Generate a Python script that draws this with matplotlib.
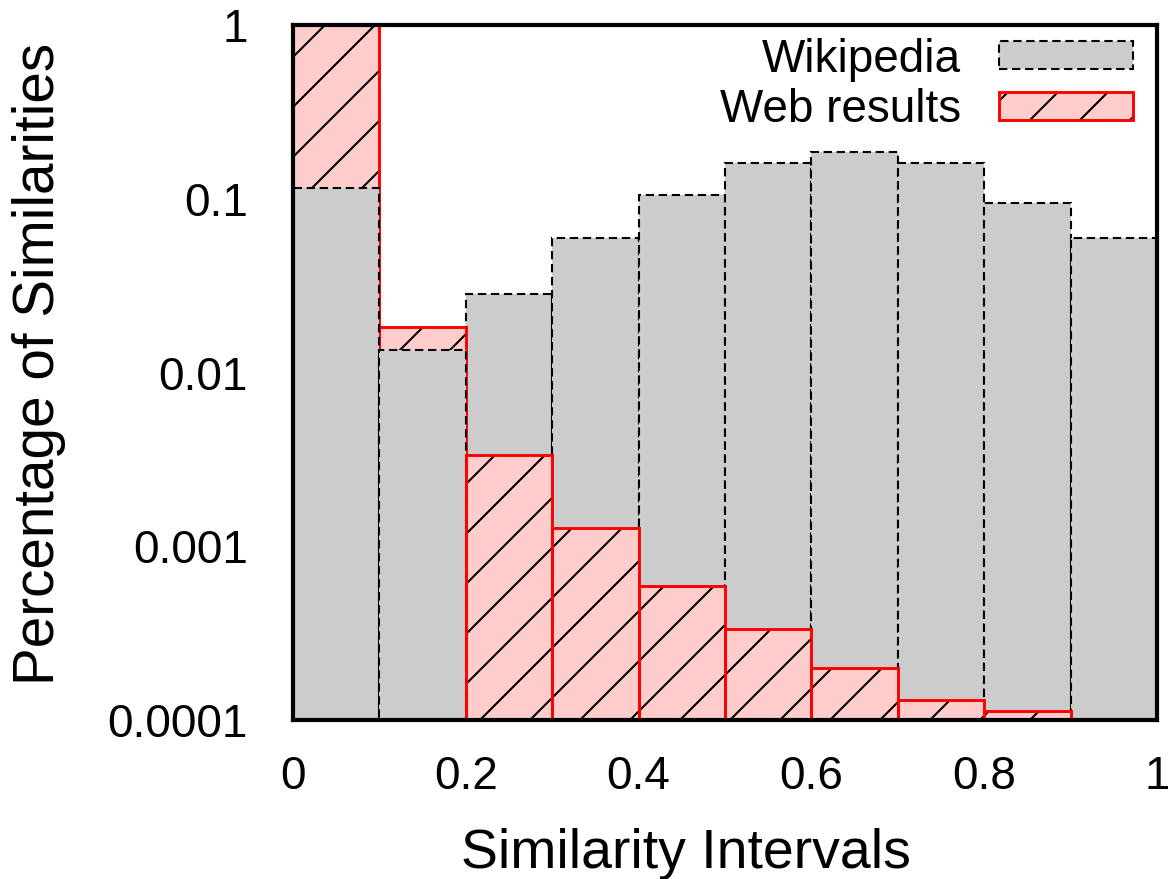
import matplotlib
matplotlib.use("Agg")
import matplotlib.pyplot as plt
import numpy as np
from matplotlib.ticker import FixedLocator, FixedFormatter, NullLocator
from matplotlib.legend_handler import HandlerTuple

# ---- data ----
bin_left = [0.0, 0.1, 0.2, 0.3, 0.4, 0.5, 0.6, 0.7, 0.8, 0.9]
wikipedia = [0.115, 0.0135, 0.0283, 0.0594, 0.105, 0.161, 0.186, 0.161, 0.0946, 0.0594]
web_results = [1.0, 0.0183, 0.00335, 0.00127, 0.00059, 0.000334, 0.000199, 0.000130, 0.000113, 0.0]
series_names = ["Wikipedia", "Web results"]
x_ticks = [0, 0.2, 0.4, 0.6, 0.8, 1.0]
x_tick_labels = ["0", "0.2", "0.4", "0.6", "0.8", "1"]
y_ticks = [1e-4, 1e-3, 1e-2, 1e-1, 1]
y_tick_labels = ["0.0001", "0.001", "0.01", "0.1", "1"]

plt.rcParams['font.family'] = ['Liberation Sans', 'DejaVu Sans']
plt.rcParams['hatch.linewidth'] = 0.5

DPI = 300
fig = plt.figure(figsize=(1168 / DPI, 879 / DPI), dpi=DPI)
ax = fig.add_axes([293 / 1168, 1 - 720 / 879, 864 / 1168, 695 / 879])

gray = ax.bar(bin_left, wikipedia, width=0.1, align='edge', color='#cccccc',
              edgecolor='black', linewidth=0.5, linestyle=(0, (4, 2.25)))
web_vals = [v if v > 0 else np.nan for v in web_results]
# fill + black hatch
pink_fill = ax.bar(bin_left, web_vals, width=0.1, align='edge', color='#ffcccc',
                   edgecolor='black', linewidth=0, hatch='//')
# red outline
pink_edge = ax.bar(bin_left, web_vals, width=0.1, align='edge', fill=False,
                   edgecolor='#ff0000', linewidth=0.7)

# smaller bar of each bin drawn on top
for g, pf, pe, gv, pv in zip(gray, pink_fill, pink_edge, wikipedia, web_results):
    if gv < pv:
        g.set_zorder(3); pf.set_zorder(2); pe.set_zorder(2.1)
    else:
        g.set_zorder(2); pf.set_zorder(3); pe.set_zorder(3.1)

ax.set_yscale('log')
ax.set_xlim(0, 1)
ax.set_ylim(1e-4, 1)
ax.yaxis.set_major_locator(FixedLocator(y_ticks))
ax.yaxis.set_major_formatter(FixedFormatter(y_tick_labels))
ax.yaxis.set_minor_locator(NullLocator())
ax.xaxis.set_major_locator(FixedLocator(x_ticks))
ax.xaxis.set_major_formatter(FixedFormatter(x_tick_labels))
ax.tick_params(axis='both', length=0, labelsize=11)
ax.tick_params(axis='y', pad=10.8)
ax.tick_params(axis='x', pad=8.4)

for s in ax.spines.values():
    s.set_linewidth(1.0)
    s.set_color('black')
    s.set_zorder(5)

ax.set_xlabel("Similarity Intervals", fontsize=13.3)
ax.set_ylabel("Percentage of Similarities", fontsize=13.6)
ax.xaxis.set_label_coords(0.455, -0.155)
ax.yaxis.set_label_coords(-0.263, 0.512)

leg = ax.legend([gray[0], (pink_fill[0], pink_edge[0])], series_names,
                handler_map={tuple: HandlerTuple(ndivide=1, pad=0)},
                loc='upper right', bbox_to_anchor=(0.972, 0.982),
                frameon=False, markerfirst=False, fontsize=11,
                handlelength=2.92, handleheight=0.55, handletextpad=0.83,
                labelspacing=0.15, borderpad=0, borderaxespad=0)
leg.set_zorder(10)

fig.savefig("out.png", dpi=DPI)
